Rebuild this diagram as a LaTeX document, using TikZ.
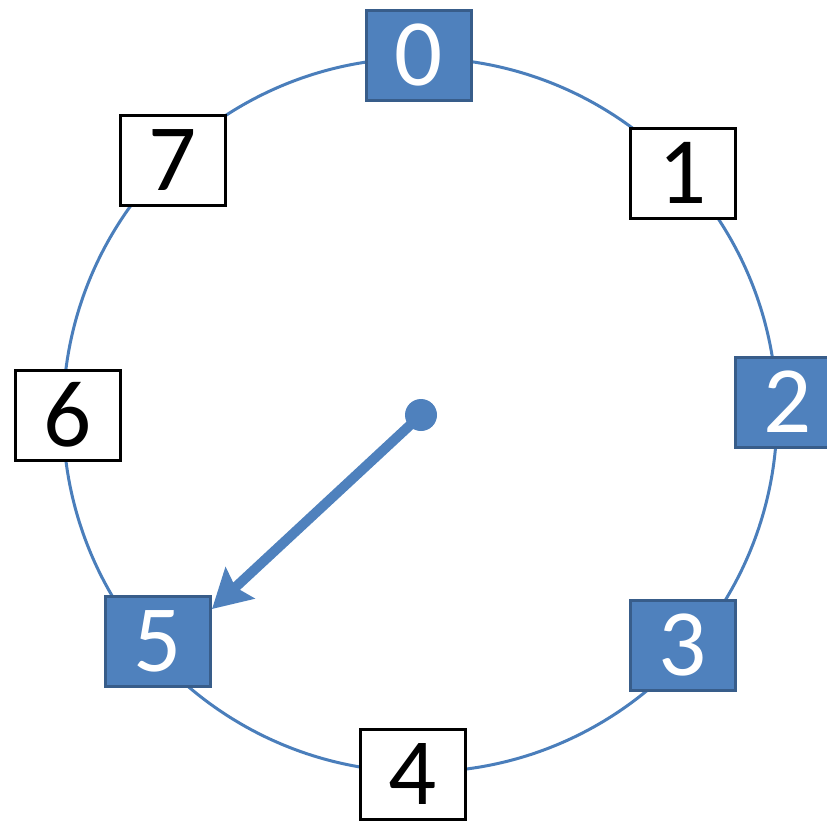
\documentclass[tikz,border=0pt]{standalone}
\usepackage{fontspec}
\setmainfont{Carlito}
\usetikzlibrary{arrows.meta}
\definecolor{ringblue}{HTML}{4A7EBB}
\definecolor{boxblue}{HTML}{4F81BD}
\definecolor{edgeblue}{HTML}{385D8A}

\tikzset{
  slot/.style={draw=black, fill=white, line width=3pt, minimum width=105pt,
    minimum height=90pt, inner sep=0pt, font=\fontsize{95}{95}\selectfont},
  hit/.style={slot, draw=edgeblue, fill=boxblue, text=white},
}

\begin{document}
\begin{tikzpicture}[x=1pt,y=1pt,>=Stealth]
  \useasboundingbox (0,0) rectangle (827,-820);
  \draw[ringblue, line width=3pt] (420,-415) circle (357);
  \node[hit]  (n0) at (419,-55)  {0};
  \node[slot] (n1) at (683,-173) {1};
  \node[hit]  (n2) at (788,-402) {2};
  \node[hit]  (n3) at (683,-645) {3};
  \node[slot] (n4) at (413,-774) {4};
  \node[hit]  (n5) at (158,-641) {5};
  \node[slot] (n6) at (68,-415)  {6};
  \node[slot] (n7) at (173,-160) {7};
  % pointer
  \fill[boxblue] (421,-415) circle (16) coordinate (hub);
  \coordinate (tip) at (212,-609);
  \draw[->, boxblue, line width=10pt, arrows={-Stealth[length=38pt,width=42pt,inset=6pt]}]
    (hub) -- (tip);
\end{tikzpicture}
\end{document}
